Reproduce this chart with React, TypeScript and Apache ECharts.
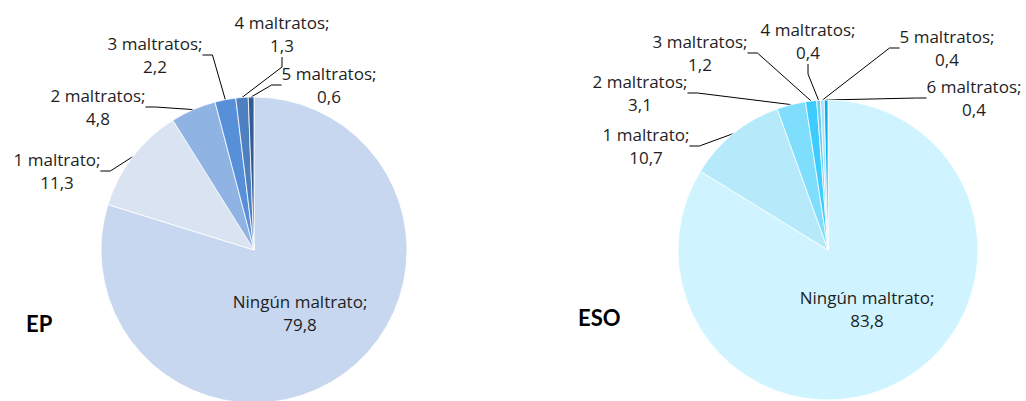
import React, { useEffect, useRef } from 'react';
import * as echarts from 'echarts';

const categoriesEP = ['Ningún maltrato', '1 maltrato', '2 maltratos', '3 maltratos', '4 maltratos', '5 maltratos'];
const valuesEP = [79.8, 11.3, 4.8, 2.2, 1.3, 0.6];
const categoriesESO = ['Ningún maltrato', '1 maltrato', '2 maltratos', '3 maltratos', '4 maltratos', '5 maltratos', '6 maltratos'];
const valuesESO = [83.8, 10.7, 3.1, 1.2, 0.4, 0.4, 0.4];
const titles = ['EP', 'ESO'];

const colorsEP = ['#C6D7EF', '#DAE3F2', '#8FB3E2', '#5790D9', '#4E7FBE', '#335C95'];
const colorsESO = ['#CFF4FF', '#B6EAFB', '#7EDEFB', '#3ECCFE', '#6ACDF4', '#A6E2F8', '#08AEEF'];

const labelPosEP = [[300, 313], [57, 171], [98, 107], [155, 55], [282, 34], [329, 85]];
const labelPosESO = [[867, 309], [646, 146], [640, 93], [700, 53], [808, 41], [947, 48], [974, 98]];

const FONT = '"Open Sans"';

function fmt(p: any) {
  return `${p.name};\n${Number(p.value).toFixed(1).replace('.', ',')}`;
}

function makeSeries(cats: string[], vals: number[], colors: string[], pos: number[][], center: number[], radius: number) {
  return {
    type: 'pie',
    center,
    radius,
    startAngle: 90,
    clockwise: true,
    avoidLabelOverlap: false,
    silent: true,
    itemStyle: { borderColor: '#ffffff', borderWidth: 0.8 },
    label: {
      show: true,
      position: 'outside',
      formatter: fmt,
      fontFamily: FONT,
      fontSize: 17,
      lineHeight: 23,
      color: '#1e1e1e',
      align: 'center',
    },
    labelLine: { show: true, length: 10, length2: 10, lineStyle: { color: '#000', width: 1 } },
    labelLayout: (p: any) => ({
      x: pos[p.dataIndex][0],
      y: pos[p.dataIndex][1],
      align: 'center',
      verticalAlign: 'middle',
    }),
    data: cats.map((n, i) => ({
      name: n,
      value: vals[i],
      itemStyle: { color: colors[i] },
      ...(i === 0 ? { labelLine: { show: false } } : {}),
    })),
  };
}

export default function App() {
  const ref = useRef<HTMLDivElement>(null);
  useEffect(() => {
    if (!ref.current) return;
    const chart = echarts.init(ref.current, undefined, { renderer: 'svg' });
    chart.setOption({
      animation: false,
      backgroundColor: '#ffffff',
      graphic: [
        { type: 'text', x: 26, y: 323, style: { text: titles[0], font: 'bold 22px Lato', fill: '#000', verticalAlign: 'middle' } },
        { type: 'text', x: 578, y: 317, style: { text: titles[1], font: 'bold 22px Lato', fill: '#000', verticalAlign: 'middle' } },
      ],
      series: [
        makeSeries(categoriesEP, valuesEP, colorsEP, labelPosEP, [254, 250], 153),
        makeSeries(categoriesESO, valuesESO, colorsESO, labelPosESO, [828, 250], 150),
      ],
    });
    return () => chart.dispose();
  }, []);
  return <div ref={ref} style={{ position: 'fixed', left: 0, top: 0, width: 1026, height: 401 }} />;
}
